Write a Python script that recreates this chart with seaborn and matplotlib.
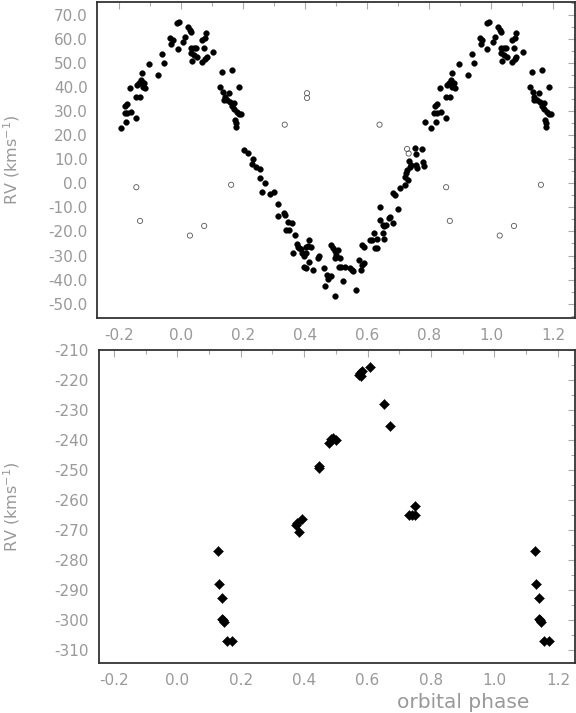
import numpy as np
import pandas as pd
import matplotlib
matplotlib.use("Agg")
import matplotlib.pyplot as plt
import seaborn as sns
from matplotlib.ticker import MultipleLocator, FormatStrFormatter

# ---------------- data (phase folded, 0..1) ----------------
# primary star RV (filled circles)
phase_primary = [
    0.007, 0.012, 0.022, 0.028, 0.033, 0.031, 0.042, 0.047, 0.031, 0.042, 0.050, 0.036,
    0.068, 0.077, 0.081, 0.074, 0.068, 0.077, 0.082, 0.104, 0.131, 0.163, 0.125, 0.135,
    0.154, 0.186, 0.140, 0.138, 0.149, 0.157, 0.170, 0.165, 0.170, 0.181, 0.188, 0.193,
    0.173, 0.176, 0.178,
    0.204, 0.216, 0.233, 0.227, 0.241, 0.255, 0.254, 0.270, 0.262, 0.288, 0.298, 0.311,
    0.312, 0.332, 0.334, 0.343, 0.359, 0.338, 0.348, 0.368, 0.373, 0.377, 0.381, 0.388,
    0.402, 0.408, 0.413, 0.418, 0.362, 0.391, 0.395, 0.402, 0.413, 0.397, 0.404, 0.426,
    0.440, 0.445, 0.461, 0.472, 0.475, 0.463,
    0.484, 0.490, 0.497, 0.506, 0.500, 0.495, 0.514, 0.508, 0.516, 0.527, 0.484, 0.522,
    0.497, 0.546, 0.551, 0.554, 0.565, 0.575, 0.583, 0.581, 0.591, 0.584, 0.591, 0.608,
    0.615, 0.621, 0.632, 0.626, 0.632, 0.650, 0.654, 0.640, 0.640, 0.650, 0.656, 0.661,
    0.669, 0.675, 0.683, 0.701, 0.683, 0.690, 0.707, 0.722, 0.722, 0.725, 0.728, 0.732,
    0.736, 0.741, 0.739, 0.758, 0.761, 0.758, 0.754, 0.776, 0.781, 0.782,
    0.788, 0.806, 0.822, 0.825, 0.817, 0.838, 0.854, 0.820, 0.824, 0.835, 0.854, 0.867,
    0.857, 0.865, 0.872, 0.881, 0.883, 0.875, 0.870, 0.873, 0.895, 0.924, 0.945, 0.937,
    0.963, 0.972, 0.967, 0.988, 0.986, 0.993,
]
rv_primary = [
    58.6, 60.7, 64.9, 63.8, 63.1, 56.1, 56.1, 56.1, 54.1, 53.4, 52.7, 51.0,
    59.6, 60.3, 62.4, 56.1, 50.6, 51.7, 52.7, 54.5, 46.5, 47.1, 39.9, 38.1,
    37.4, 39.9, 35.8, 34.7, 34.7, 34.0, 33.6, 32.2, 30.8, 29.8, 28.9, 28.9,
    26.4, 25.0, 23.6,
    13.8, 12.7, 10.2, 8.0, 7.0, 5.9, 2.1, 0.3, -3.5, -4.4, -3.5, -8.4,
    -13.5, -12.4, -13.1, -15.9, -16.3, -19.3, -19.3, -21.4, -25.2, -26.3, -27.0, -27.4,
    -26.3, -26.0, -23.5, -26.3, -28.8, -29.0, -30.4, -29.0, -32.5, -34.6, -35.3, -36.2,
    -31.1, -30.4, -35.3, -38.0, -39.8, -42.6,
    -25.6, -27.0, -28.3, -27.6, -29.7, -31.1, -31.1, -34.6, -34.6, -34.6, -38.7, -40.4,
    -46.8, -35.3, -36.0, -36.6, -44.5, -31.8, -33.9, -36.0, -33.2, -25.6, -26.5, -23.5,
    -23.5, -20.7, -23.2, -27.0, -27.0, -20.7, -23.2, -15.2, -9.9, -17.3, -17.7, -17.3,
    -14.5, -13.8, -16.3, -10.7, -4.1, -4.8, -2.0, -0.6, 2.8, 4.2, 5.6, 1.4,
    9.5, 7.7, 7.0, 7.7, 6.3, 12.2, 14.6, 14.3, 9.0, 7.3,
    25.7, 22.9, 25.7, 29.1, 29.1, 29.8, 27.3, 32.2, 32.9, 39.5, 36.1, 36.1,
    40.9, 41.6, 42.3, 41.6, 39.5, 40.2, 43.0, 46.0, 49.6, 45.1, 50.2, 53.8,
    60.3, 59.6, 57.8, 55.9, 66.8, 67.0,
]

# other lines (open circles)
phase_open = [0.028, 0.074, 0.161, 0.334, 0.406, 0.406, 0.640, 0.729, 0.734, 0.855, 0.867]
rv_open = [-21.7, -17.7, -0.6, 24.4, 37.5, 35.5, 24.4, 14.3, 12.4, -1.6, -15.6]

# secondary RV (diamonds)
phase_secondary = [0.127, 0.132, 0.140, 0.140, 0.145, 0.148, 0.156, 0.171,
                   0.374, 0.376, 0.383, 0.393,
                   0.448, 0.448,
                   0.479, 0.485, 0.492, 0.501,
                   0.574, 0.577, 0.579, 0.583, 0.608,
                   0.651, 0.672,
                   0.730, 0.740, 0.751, 0.751]
rv_secondary = [-276.9, -287.9, -292.5, -299.5, -300.1, -300.6, -306.8, -306.8,
                -268.2, -267.5, -270.6, -266.4,
                -248.6, -249.3,
                -241.0, -239.7, -239.3, -239.9,
                -218.2, -217.5, -218.6, -216.9, -215.7,
                -227.9, -235.2,
                -265.1, -265.1, -265.1, -261.9]

x_ticks = [-0.2, 0.0, 0.2, 0.4, 0.6, 0.8, 1.0, 1.2]


def fold(ph, rv):
    ph = np.asarray(ph, float)
    rv = np.asarray(rv, float)
    p = np.concatenate([ph, ph[ph >= 0.8] - 1.0, ph[ph < 0.2] + 1.0])
    v = np.concatenate([rv, rv[ph >= 0.8], rv[ph < 0.2]])
    keep = (p >= -0.205) & (p <= 1.205)
    return pd.DataFrame({"phase": p[keep], "rv": v[keep]})


df_p = fold(phase_primary, rv_primary)
df_o = fold(phase_open, rv_open)
df_s = fold(phase_secondary, rv_secondary)

# ---------------- figure ----------------
sns.set_theme(style="white")
plt.rcParams["font.family"] = ["DejaVu Sans"]

W, H = 576, 713
fig = plt.figure(figsize=(W / 100, H / 100), dpi=100)
ax1 = fig.add_axes([97.3 / W, 1 - 318.3 / H, (575 - 97.3) / W, (318.3 - 2) / H])
ax2 = fig.add_axes([98.7 / W, 1 - 663 / H, (575 - 98.7) / W, (663 - 350.3) / H])

sns.scatterplot(data=df_p, x="phase", y="rv", ax=ax1, marker="o", s=17,
                color="black", edgecolor="black", linewidth=0.3, legend=False)
sns.scatterplot(data=df_o, x="phase", y="rv", ax=ax1, marker="o", s=14,
                facecolor="none", edgecolor="#555555", linewidth=0.6, legend=False)
sns.scatterplot(data=df_s, x="phase", y="rv", ax=ax2, marker="D", s=26,
                color="black", edgecolor="black", linewidth=0.3, legend=False)

ax1.set_xlim(-0.271, 1.271)
ax1.set_ylim(-56.1, 75.4)
ax2.set_xlim(-0.248, 1.254)
ax2.set_ylim(-314.3, -210)

label_col = "#999999"
for ax in (ax1, ax2):
    ax.set_xticks(x_ticks)
    ax.xaxis.set_minor_locator(MultipleLocator(0.1))
    ax.yaxis.set_major_locator(MultipleLocator(10))
    ax.yaxis.set_minor_locator(MultipleLocator(5))
    ax.xaxis.set_major_formatter(FormatStrFormatter("%.1f"))
    ax.tick_params(which="both", direction="in", top=True, right=True,
                   color="#aaaaaa", width=0.8, labelcolor=label_col, labelsize=11)
    ax.tick_params(which="major", length=5, pad=7)
    ax.tick_params(which="minor", length=3)
    for sp in ax.spines.values():
        sp.set_color("#333333")
        sp.set_linewidth(1.3)
    ax.set_ylabel("RV (kms$^{-1}$)", color=label_col, fontsize=11.5)
    ax.set_facecolor("white")

ax1.yaxis.set_major_formatter(FormatStrFormatter("%.1f"))
ax1.set_xlabel("")
ax1.yaxis.set_label_coords(-0.157, 0.5)
ax2.yaxis.set_major_formatter(FormatStrFormatter("%d"))
ax2.yaxis.set_label_coords(-0.160, 0.5)
ax2.set_xlabel("orbital phase", color=label_col, fontsize=14.5)
ax2.xaxis.set_label_coords(0.765, -0.095)

fig.savefig("out.png", dpi=100, facecolor="white")
